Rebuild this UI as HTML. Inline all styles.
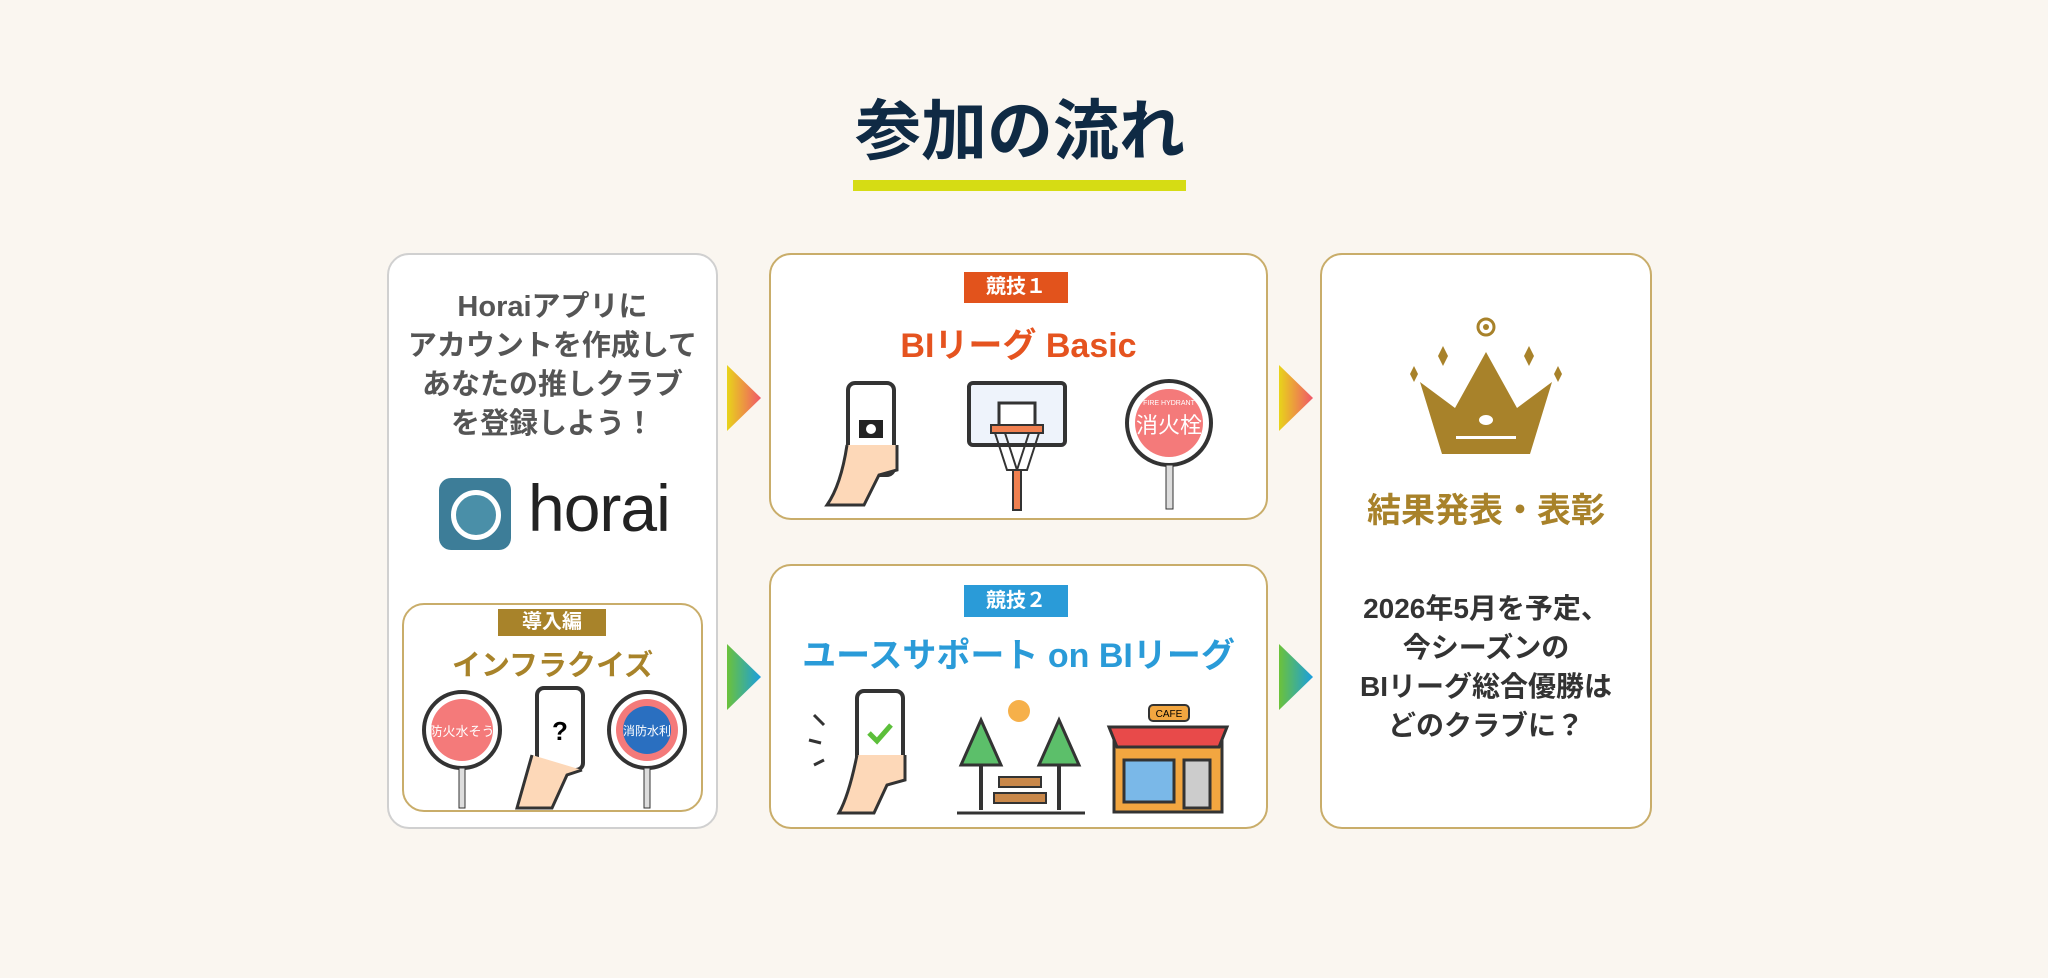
<!DOCTYPE html>
<html><head><meta charset="utf-8"><style>
body{margin:0;width:2048px;height:978px;background:#faf6f0;position:relative;overflow:hidden;font-family:"Liberation Sans","Noto Sans CJK JP",sans-serif;}
.a{position:absolute;}
.box{position:absolute;background:#fff;border:2px solid #c9ad6a;border-radius:22px;box-sizing:border-box;}
.t{position:absolute;text-align:center;font-weight:bold;white-space:nowrap;}
.badge{position:absolute;color:#fff;font-weight:bold;text-align:center;font-size:20px;}
</style></head><body>
<div class="t" style="left:820px;width:400px;top:94px;font-size:66px;color:#0f2a44;line-height:74px;">参加の流れ</div>
<div class="a" style="left:853px;top:180px;width:333px;height:11px;background:#d6dc14;"></div>

<div class="box" style="left:387px;top:253px;width:331px;height:576px;border-color:#d0d0d0;"></div>
<div class="t" style="left:387px;width:331px;top:288px;font-size:29px;line-height:39px;color:#555;">Horaiアプリに<br>アカウントを作成して<br>あなたの推しクラブ<br>を登録しよう！</div>
<div class="a" style="left:439px;top:478px;width:72px;height:72px;border-radius:12px;background:#3d7d98;"></div>
<div class="a" style="left:451px;top:490px;width:40px;height:40px;border-radius:50%;border:5px solid #fff;background:#4a8fa8;"></div>
<div class="a" style="left:528px;top:470px;font-size:66px;color:#222;font-weight:300;letter-spacing:-1px;">horai</div>

<div class="box" style="left:402px;top:603px;width:301px;height:209px;"></div>
<div class="badge" style="left:498px;top:609px;width:108px;height:27px;line-height:27px;background:#a8832a;">導入編</div>
<div class="t" style="left:402px;width:301px;top:642px;font-size:29px;color:#a8832a;">インフラクイズ</div>
<svg class="a" style="left:402px;top:680px" width="301" height="130">
 <circle cx="60" cy="50" r="38" fill="#fff" stroke="#333" stroke-width="4"/><circle cx="60" cy="50" r="31" fill="#f47a7a"/><text x="60" y="56" font-size="13" fill="#fff" text-anchor="middle" font-family="Noto Sans CJK JP">防火水そう</text><rect x="57" y="88" width="6" height="40" fill="#ddd" stroke="#333"/>
 <rect x="135" y="8" width="46" height="82" rx="7" fill="#fff" stroke="#333" stroke-width="4"/><text x="158" y="60" font-size="26" font-weight="bold" text-anchor="middle">?</text><path d="M130 75 Q120 110 115 128 L150 128 L165 95 L180 90" fill="#fdd8b8" stroke="#333" stroke-width="3"/>
 <circle cx="245" cy="50" r="38" fill="#fff" stroke="#333" stroke-width="4"/><circle cx="245" cy="50" r="31" fill="#f47a7a"/><circle cx="245" cy="50" r="24" fill="#2a6fc0"/><text x="245" y="55" font-size="12" fill="#fff" text-anchor="middle" font-family="Noto Sans CJK JP">消防水利</text><rect x="242" y="88" width="6" height="40" fill="#ddd" stroke="#333"/>
</svg>

<svg class="a" style="left:727px;top:365px" width="34" height="66"><defs><linearGradient id="g1"><stop offset="0" stop-color="#e8d41a"/><stop offset="1" stop-color="#f0566a"/></linearGradient><linearGradient id="g2"><stop offset="0" stop-color="#6cc23a"/><stop offset="1" stop-color="#1a9ee0"/></linearGradient></defs><path d="M0 0 L34 33 L0 66Z" fill="url(#g1)"/></svg>
<svg class="a" style="left:727px;top:644px" width="34" height="66"><path d="M0 0 L34 33 L0 66Z" fill="url(#g2)"/></svg>
<svg class="a" style="left:1279px;top:365px" width="34" height="66"><path d="M0 0 L34 33 L0 66Z" fill="url(#g1)"/></svg>
<svg class="a" style="left:1279px;top:644px" width="34" height="66"><path d="M0 0 L34 33 L0 66Z" fill="url(#g2)"/></svg>

<div class="box" style="left:769px;top:253px;width:499px;height:267px;"></div>
<div class="badge" style="left:964px;top:272px;width:104px;height:31px;line-height:31px;background:#e2531c;">競技１</div>
<div class="t" style="left:769px;width:499px;top:318px;font-size:34px;color:#e5531f;">BIリーグ Basic</div>
<svg class="a" style="left:769px;top:375px" width="499" height="140">
 <rect x="79" y="8" width="46" height="92" rx="7" fill="#fff" stroke="#333" stroke-width="4"/><rect x="90" y="45" width="24" height="18" fill="#222"/><circle cx="102" cy="54" r="5" fill="#fff"/><path d="M78 70 Q72 110 58 130 L95 130 L110 100 L128 95 L128 70" fill="#fdd8b8" stroke="#333" stroke-width="3"/>
 <rect x="200" y="8" width="96" height="62" rx="4" fill="#eef3fb" stroke="#333" stroke-width="4"/><rect x="230" y="28" width="36" height="24" fill="#fff" stroke="#333" stroke-width="3"/><rect x="222" y="50" width="52" height="8" fill="#f08050" stroke="#333" stroke-width="2"/><path d="M226 58 L238 95 L258 95 L270 58 M236 58 L248 95 M260 58 L248 95" stroke="#333" fill="none" stroke-width="2"/><rect x="244" y="95" width="8" height="40" fill="#f08050" stroke="#333" stroke-width="2"/>
 <circle cx="400" cy="48" r="42" fill="#fff" stroke="#333" stroke-width="4"/><circle cx="400" cy="48" r="34" fill="#f47a7a"/><text x="400" y="30" font-size="7" fill="#fff" text-anchor="middle">FIRE HYDRANT</text><text x="400" y="58" font-size="22" fill="#fff" text-anchor="middle" font-family="Noto Sans CJK JP">消火栓</text><rect x="397" y="90" width="7" height="44" fill="#ddd" stroke="#333"/>
</svg>

<div class="box" style="left:769px;top:564px;width:499px;height:265px;"></div>
<div class="badge" style="left:964px;top:585px;width:104px;height:32px;line-height:32px;background:#2a9bd8;">競技２</div>
<div class="t" style="left:769px;width:499px;top:628px;font-size:34px;color:#2a9bd8;">ユースサポート on BIリーグ</div>
<svg class="a" style="left:769px;top:685px" width="499" height="140">
 <g stroke="#333" stroke-width="3"><line x1="45" y1="30" x2="55" y2="40"/><line x1="40" y1="55" x2="52" y2="58"/><line x1="45" y1="80" x2="55" y2="75"/></g>
 <rect x="88" y="6" width="46" height="90" rx="7" fill="#fff" stroke="#333" stroke-width="4"/><path d="M100 48 L108 56 L122 40" stroke="#5cbf3a" stroke-width="5" fill="none"/><path d="M88 70 Q80 110 70 128 L105 128 L118 100 L136 95 L136 70" fill="#fdd8b8" stroke="#333" stroke-width="3"/>
 <circle cx="250" cy="26" r="11" fill="#f6b04a"/>
 <path d="M212 35 L192 80 L232 80Z M290 35 L270 80 L310 80Z" fill="#5cbf6a" stroke="#333" stroke-width="3"/><path d="M212 80 V125 M290 80 V125" stroke="#333" stroke-width="4"/><rect x="230" y="92" width="42" height="10" fill="#c9884a" stroke="#333" stroke-width="2"/><rect x="225" y="108" width="52" height="10" fill="#c9884a" stroke="#333" stroke-width="2"/><line x1="188" y1="128" x2="316" y2="128" stroke="#333" stroke-width="3"/>
 <rect x="345" y="45" width="108" height="82" fill="#f2a640" stroke="#333" stroke-width="3"/><path d="M340 42 L458 42 L450 62 L348 62Z" fill="#e84a4a" stroke="#333" stroke-width="3"/><rect x="380" y="20" width="40" height="16" rx="4" fill="#f2a640" stroke="#333" stroke-width="2"/><text x="400" y="32" font-size="10" text-anchor="middle">CAFE</text><rect x="355" y="75" width="50" height="42" fill="#7ab8e8" stroke="#333" stroke-width="3"/><rect x="415" y="75" width="26" height="48" fill="#ccc" stroke="#333" stroke-width="3"/>
</svg>

<div class="box" style="left:1320px;top:253px;width:332px;height:576px;"></div>
<svg class="a" style="left:1400px;top:310px" width="172" height="150" fill="#a8822a">
 <circle cx="86" cy="17" r="8" fill="none" stroke="#a8822a" stroke-width="3"/><circle cx="86" cy="17" r="3"/>
 <path d="M10 64 l4 -8 l4 8 l-4 8z M38 46 l5 -10 l5 10 l-5 10z M124 46 l5 -10 l5 10 l-5 10z M154 64 l4 -8 l4 8 l-4 8z"/>
 <path d="M20 72 L55 98 L86 42 L117 98 L152 72 L130 144 L42 144Z"/><ellipse cx="86" cy="110" rx="7" ry="5" fill="#fff"/><rect x="56" y="126" width="60" height="3" fill="#fff"/>
</svg>
<div class="t" style="left:1320px;width:332px;top:483px;font-size:34px;color:#a8822a;">結果発表・表彰</div>
<div class="t" style="left:1320px;width:332px;top:589px;font-size:28px;line-height:39px;color:#333;">2026年5月を予定、<br>今シーズンの<br>BIリーグ総合優勝は<br>どのクラブに？</div>
</body></html>
